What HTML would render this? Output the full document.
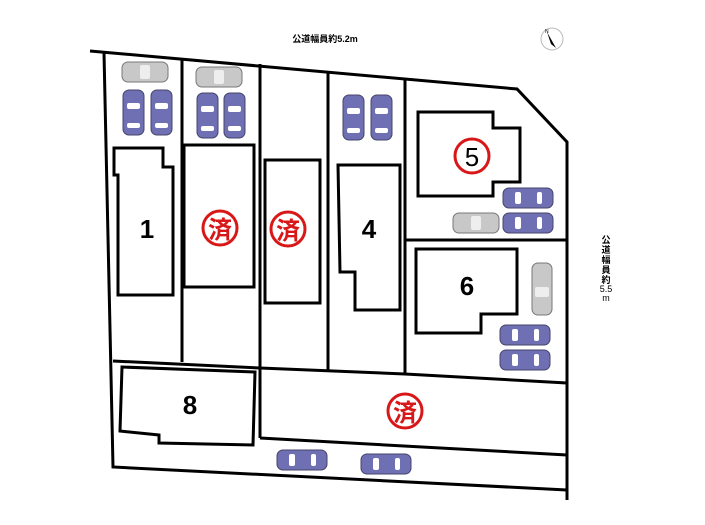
<!DOCTYPE html>
<html><head><meta charset="utf-8"><style>
html,body{margin:0;padding:0;background:#fff;width:705px;height:525px;overflow:hidden}
</style></head><body>
<svg width="705" height="525" viewBox="0 0 705 525" xmlns="http://www.w3.org/2000/svg">
<defs>
<g id="cv"><rect x="0" y="0" width="21" height="45" rx="6" fill="#6f6fb3" stroke="#44446a" stroke-width="1"/><rect x="4" y="13" width="13" height="6" rx="2" fill="#fff"/><rect x="4" y="33" width="13" height="5" rx="2" fill="#fff"/></g>
<g id="ch"><rect x="0" y="0" width="50" height="20" rx="6" fill="#6f6fb3" stroke="#44446a" stroke-width="1"/><rect x="12" y="4" width="6" height="12" rx="2" fill="#fff"/><rect x="34" y="4" width="5" height="12" rx="2" fill="#fff"/></g>
<g id="gh"><rect x="0" y="0" width="46" height="20" rx="6" fill="#c8c8c8" stroke="#777" stroke-width="1"/><rect x="18" y="3" width="10" height="14" rx="2" fill="#eee"/></g>
<g id="gv"><rect x="0" y="0" width="20" height="52" rx="6" fill="#c8c8c8" stroke="#777" stroke-width="1"/><rect x="3" y="24" width="14" height="10" rx="2" fill="#eee"/></g>
</defs>
<g fill="none" stroke="#000" stroke-width="3" stroke-linejoin="miter">
<polyline points="90,51 517,89 567,142 567,500"/>
<polyline points="104,53 113,467 567,490"/>
<line x1="182" y1="58" x2="182" y2="362"/>
<line x1="260" y1="64" x2="260" y2="438"/>
<line x1="328" y1="71" x2="328" y2="371"/>
<line x1="405" y1="80" x2="405" y2="374"/>
<line x1="405" y1="240" x2="567" y2="240"/>
<polyline points="113,361 260,368 405,374 567,383"/>
<line x1="260" y1="438" x2="567" y2="455"/>
<polygon points="114,148 163,148 163,167 173,167 173,295 118,295 118,175 114,175"/>
<rect x="184" y="145" width="70" height="142"/>
<rect x="265" y="160" width="55" height="143"/>
<polygon points="338,165 400,165 400,310 355,310 355,272 340,272"/>
<polygon points="418,112 493,112 493,128 520,128 520,182 493,182 493,196 418,196"/>
<polygon points="416,249 517,249 517,314 481,314 481,333 416,333"/>
<polygon points="122,367 255,372 253,445 159,443 159,435 120,431"/>
</g>
<use href="#gh" x="122" y="62"/><use href="#gh" x="196" y="67"/>
<use href="#cv" x="123" y="90"/><use href="#cv" x="151" y="90"/>
<use href="#cv" x="197" y="93"/><use href="#cv" x="224" y="93"/>
<use href="#cv" x="343" y="95"/><use href="#cv" x="371" y="95"/>
<use href="#ch" x="503" y="188"/><use href="#ch" x="503" y="213"/>
<use href="#gh" x="453" y="213"/>
<use href="#gv" x="532" y="263"/>
<use href="#ch" x="500" y="325"/><use href="#ch" x="500" y="350"/>
<use href="#ch" x="277" y="450"/><use href="#ch" x="361" y="454"/>
<g fill="#fff" stroke="#d81818" stroke-width="3">
<circle cx="220" cy="228" r="17"/><circle cx="288" cy="229" r="17"/><circle cx="405" cy="411" r="17"/><circle cx="472" cy="156" r="17"/>
</g>
<g font-family="Liberation Sans,Noto Sans CJK JP,sans-serif" font-weight="bold" text-anchor="middle">
<text x="220" y="238" font-size="24" fill="#d81818">済</text>
<text x="288" y="239" font-size="24" fill="#d81818">済</text>
<text x="405" y="421" font-size="24" fill="#d81818">済</text>
<text x="472" y="166" font-size="26" font-weight="normal" fill="#000">5</text>
<text x="147" y="238" font-size="26" fill="#000">1</text>
<text x="369" y="238" font-size="26" fill="#000">4</text>
<text x="467" y="295" font-size="26" fill="#000">6</text>
<text x="190" y="414" font-size="26" fill="#000">8</text>
<text x="325" y="42" font-size="9" fill="#000">公道幅員約5.2m</text>
<g font-size="9" fill="#000">
<text x="606" y="243">公</text><text x="606" y="253">道</text><text x="606" y="263">幅</text><text x="606" y="273">員</text><text x="606" y="283">約</text><text x="606" y="292" font-weight="normal">5.5</text><text x="606" y="301" font-weight="normal">m</text>
</g>
</g>
<circle cx="552" cy="39" r="11" fill="#fff" stroke="#bbb" stroke-width="1"/>
<polygon points="547,32 556,48 551,44" fill="#000"/>
<text x="545" y="33" font-size="5" font-family="Liberation Sans,sans-serif">N</text>
</svg>
</body></html>
